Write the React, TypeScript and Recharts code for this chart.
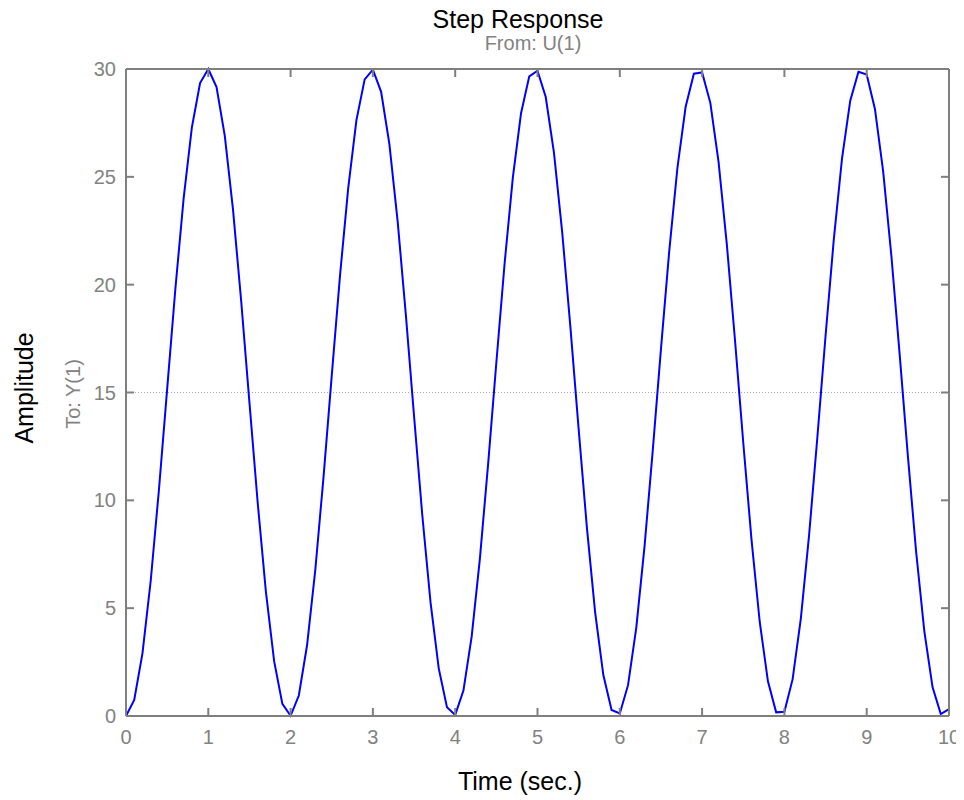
import React from "react";
import { LineChart, Line, XAxis, YAxis, ReferenceLine } from "recharts";

const times = [
  0, 0.1, 0.2, 0.3, 0.4, 0.5, 0.6, 0.7, 0.8, 0.9,
  1, 1.1, 1.2, 1.3, 1.4, 1.5, 1.6, 1.7, 1.8, 1.9,
  2, 2.1, 2.2, 2.3, 2.4, 2.5, 2.6, 2.7, 2.8, 2.9,
  3, 3.1, 3.2, 3.3, 3.4, 3.5, 3.6, 3.7, 3.8, 3.9,
  4, 4.1, 4.2, 4.3, 4.4, 4.5, 4.6, 4.7, 4.8, 4.9,
  5, 5.1, 5.2, 5.3, 5.4, 5.5, 5.6, 5.7, 5.8, 5.9,
  6, 6.1, 6.2, 6.3, 6.4, 6.5, 6.6, 6.7, 6.8, 6.9,
  7, 7.1, 7.2, 7.3, 7.4, 7.5, 7.6, 7.7, 7.8, 7.9,
  8, 8.1, 8.2, 8.3, 8.4, 8.5, 8.6, 8.7, 8.8, 8.9,
  9, 9.1, 9.2, 9.3, 9.4, 9.5, 9.6, 9.7, 9.8, 9.9,
  10,
];

const amplitude = [
  0, 0.74, 2.9, 6.26, 10.48, 15.16, 19.81, 23.99, 27.28, 29.35,
  30.0, 29.16, 26.91, 23.49, 19.22, 14.53, 9.9, 5.76, 2.54, 0.56,
  0.01, 0.95, 3.28, 6.77, 11.08, 15.78, 20.4, 24.48, 27.63, 29.52,
  29.97, 28.94, 26.53, 22.97, 18.62, 13.91, 9.32, 5.28, 2.21, 0.41,
  0.05, 1.18, 3.68, 7.3, 11.68, 16.39, 20.97, 24.95, 27.95, 29.66,
  29.92, 28.7, 26.12, 22.44, 18.02, 13.3, 8.75, 4.82, 1.9, 0.28,
  0.12, 1.43, 4.09, 7.84, 12.29, 17.01, 21.53, 25.41, 28.25, 29.78,
  29.84, 28.43, 25.69, 21.89, 17.41, 12.68, 8.19, 4.37, 1.61, 0.17,
  0.2, 1.71, 4.53, 8.39, 12.9, 17.62, 22.09, 25.85, 28.53, 29.87,
  29.74, 28.15, 25.25, 21.33, 16.79, 12.07, 7.64, 3.94, 1.34, 0.09,
  0.32,
];

const xTicks = [0, 1, 2, 3, 4, 5, 6, 7, 8, 9, 10];
const yTicks = [0, 5, 10, 15, 20, 25, 30];

const title = "Step Response";
const subtitle = "From: U(1)";
const xLabel = "Time (sec.)";
const yLabel = "Amplitude";
const ySubLabel = "To: Y(1)";

const data = times.map((t, i) => ({ t, amp: amplitude[i] }));

const AXIS = "#7f7f7f";
const TEXT_GRAY = "#828282";
const FONT = "'Liberation Sans', Arial, Helvetica, sans-serif";
const TICK_LEN = 8;

const CHART_W = 956;
const CHART_H = 792;
const MARGIN = { top: 60, right: 14, bottom: 54, left: 58 };
const RIGHT_AXIS_W = 1;
const PLOT_RIGHT = CHART_W - MARGIN.right - RIGHT_AXIS_W;

const BottomTick = (props: any) => {
  const { x, y, payload } = props;
  const axisY = y - 21;
  return (
    <g>
      <line x1={x} x2={x} y1={axisY} y2={axisY - TICK_LEN} stroke={AXIS} strokeWidth={2} />
      <text x={x} y={y} textAnchor="middle" dominantBaseline="central" fill={TEXT_GRAY} fontSize={20} fontFamily={FONT}>
        {payload.value}
      </text>
    </g>
  );
};

const LeftTick = (props: any) => {
  const { x, y, payload } = props;
  const axisX = x + 10;
  return (
    <g>
      <line x1={axisX} x2={axisX + TICK_LEN} y1={y} y2={y} stroke={AXIS} strokeWidth={2} />
      <line x1={PLOT_RIGHT} x2={PLOT_RIGHT - TICK_LEN} y1={y} y2={y} stroke={AXIS} strokeWidth={2} />
      <text x={x} y={y} textAnchor="end" dominantBaseline="central" fill={TEXT_GRAY} fontSize={20} fontFamily={FONT}>
        {payload.value}
      </text>
    </g>
  );
};

const TopTick = (props: any) => {
  const { x, y } = props;
  return <line x1={x} x2={x} y1={y} y2={y + TICK_LEN} stroke={AXIS} strokeWidth={2} />;
};

export default function App() {
  return (
    <div style={{ position: "relative", width: CHART_W, height: CHART_H, fontFamily: FONT }}>
      <LineChart width={CHART_W} height={CHART_H} data={data} margin={MARGIN}>
        <XAxis dataKey="t" type="number" domain={[0, 10]} ticks={xTicks} interval={0} height={30} tickSize={0} tickMargin={21} tickLine={false} axisLine={{ stroke: AXIS, strokeWidth: 2 }} tick={<BottomTick />} />
        <XAxis xAxisId="top" orientation="top" dataKey="t" type="number" domain={[0, 10]} ticks={xTicks} interval={0} height={1} tickSize={0} tickMargin={0} tickLine={false} axisLine={{ stroke: AXIS, strokeWidth: 2 }} tick={<TopTick />} />
        <YAxis type="number" domain={[0, 30]} ticks={yTicks} interval={0} width={60} tickSize={0} tickMargin={10} tickLine={false} axisLine={{ stroke: AXIS, strokeWidth: 2 }} tick={<LeftTick />} />
        <YAxis yAxisId="right" orientation="right" type="number" domain={[0, 30]} ticks={yTicks} interval={0} width={RIGHT_AXIS_W} tickSize={0} tickMargin={0} tickLine={false} axisLine={{ stroke: AXIS, strokeWidth: 2 }} tick={false} />
        <ReferenceLine y={15} stroke="#a8a8a8" strokeWidth={1} strokeDasharray="1 2" />
        <Line type="linear" dataKey="amp" stroke="#0000ff" strokeWidth={2} dot={false} isAnimationActive={false} />
      </LineChart>
      <svg width={964} height={800} style={{ position: "absolute", left: -8, top: -8, pointerEvents: "none" }}>
        <text x={518} y={28} textAnchor="middle" fontSize={25} fill="#000" fontFamily={FONT}>{title}</text>
        <text x={533} y={50} textAnchor="middle" fontSize={20} fill={TEXT_GRAY} fontFamily={FONT}>{subtitle}</text>
        <text x={520} y={790} textAnchor="middle" fontSize={25} fill="#000" fontFamily={FONT}>{xLabel}</text>
        <text x={24} y={388} textAnchor="middle" dominantBaseline="central" fontSize={25} fill="#000" fontFamily={FONT} transform="rotate(-90, 24, 388)">{yLabel}</text>
        <text x={73} y={394} textAnchor="middle" dominantBaseline="central" fontSize={20} fill={TEXT_GRAY} fontFamily={FONT} transform="rotate(-90, 73, 394)">{ySubLabel}</text>
      </svg>
    </div>
  );
}
